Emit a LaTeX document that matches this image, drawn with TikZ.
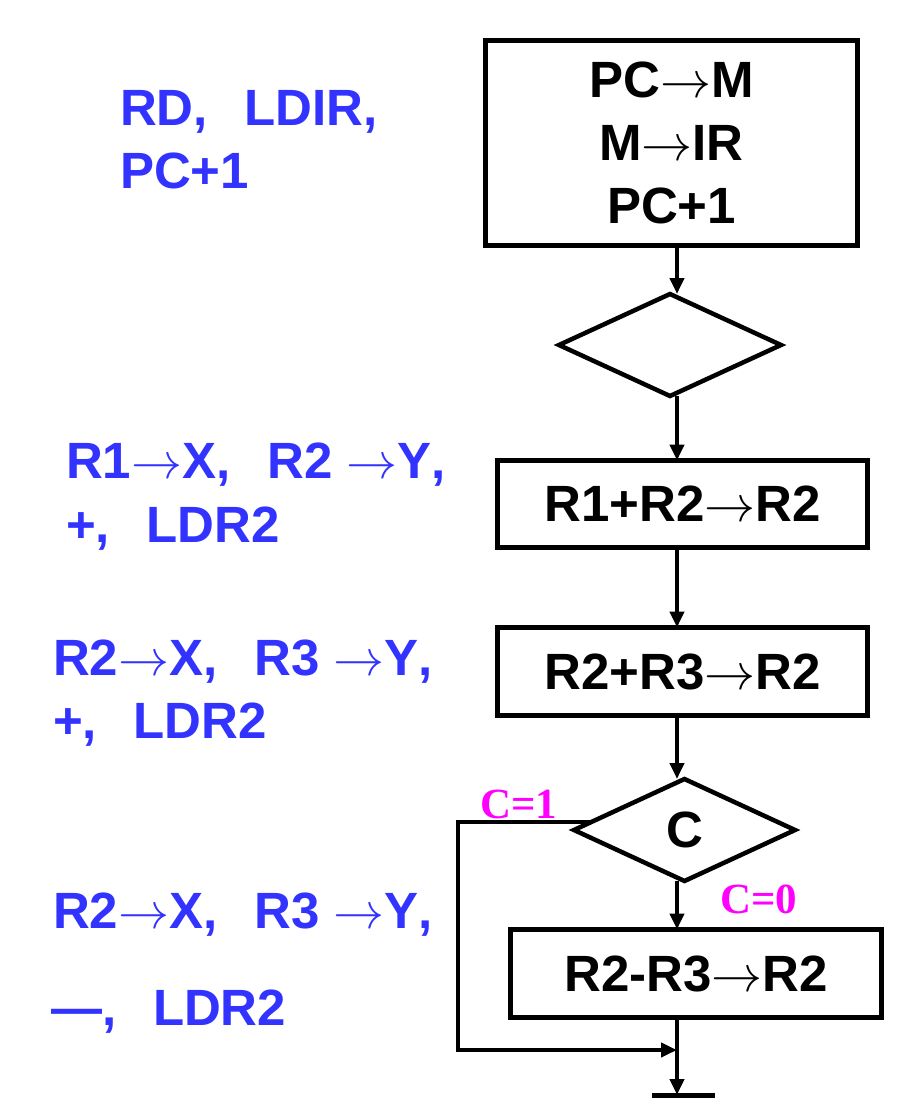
\RequirePackage{fix-cm}
\documentclass[tikz,border=0pt]{standalone}
\usepackage{fontspec}
\setmainfont{Liberation Sans}
\newfontfamily\tnr{Liberation Serif}
\usetikzlibrary{shapes.geometric,arrows.meta,calc}
\definecolor{tblue}{RGB}{51,51,255}
\definecolor{tmag}{RGB}{255,0,255}
\newcommand\ra{\ensuremath{\rightarrow}}
\newcommand\cm{\makebox[1em][l]{,}}
\begin{document}
\begin{tikzpicture}[x=1pt,y=-1pt,
  box/.style={draw,line width=5pt,inner sep=0pt,outer sep=0pt,
    font=\fontsize{51}{63}\selectfont\bfseries,align=center},
  dia/.style={draw,diamond,line width=4.5pt,inner sep=0pt,outer sep=0pt,
    font=\fontsize{51}{63}\selectfont\bfseries},
  conn/.style={line width=4pt,line join=miter,-{Triangle[width=14pt,length=16pt]}},
  lbl/.style={anchor=base west,inner sep=0pt,outer sep=0pt,text=tblue,
    font=\fontsize{51}{63}\selectfont\bfseries},
  cl/.style={anchor=base west,inner sep=0pt,outer sep=0pt,text=tmag,
    font=\fontsize{43}{43}\selectfont\tnr\bfseries}]
\useasboundingbox (0,0) rectangle (921,1120);
\coordinate (sp) at (677,0);

% flowchart boxes
\node[box,minimum width=372pt,minimum height=205pt] (b1) at (671.5,143) {PC\ra M\\M\ra IR\\PC+1};
\node[dia,minimum width=222pt,minimum height=102pt] (d1) at (670,345) {};
\node[box,minimum width=370pt,minimum height=87pt] (b2) at (682.5,504) {R1+R2\ra R2};
\node[box,minimum width=370pt,minimum height=88pt] (b3) at (682.5,671.5) {R2+R3\ra R2};
\node[dia,minimum width=221pt,minimum height=102pt] (dC) at (684.5,830) {C};
\node[box,minimum width=371pt,minimum height=88pt] (b4) at (696,973.5) {R2-R3\ra R2};
\coordinate (term) at (677,1095);

% connectors
\draw[conn] (b1.south -| sp) -- (d1.north -| sp);
\draw[conn] (d1.south -| sp) -- (b2.north -| sp);
\draw[conn] (b2.south -| sp) -- (b3.north -| sp);
\draw[conn] (b3.south -| sp) -- (dC.north -| sp);
\draw[conn] (dC.south -| sp) -- (b4.north -| sp);
\draw[conn] (b4.south -| sp) -- (term);
\draw[line width=5pt] ([xshift=-25pt]term) -- ([xshift=38pt]term);
\coordinate (c1) at ($(dC.west)!0.15!(dC.north)$);
\coordinate (lp) at (458,1050);
\draw[conn] (c1) -- (c1 -| lp) -- (lp) -- (lp -| sp);

% condition labels
\node[cl] (cone) at (480,818) {C=1};
\node[cl] (czero) at (720,913) {C=0};

% micro-operation labels
\node[lbl] (t1a) at (120,125) {RD\cm LDIR\cm};
\node[lbl] (t1b) at (120,188) {PC+1};
\node[lbl] (t2a) at (66,478) {R1\ra X\cm R2 \ra Y\cm};
\node[lbl] (t2b) at (66,542) {+\cm LDR2};
\node[lbl] (t3a) at (53,675) {R2\ra X\cm R3 \ra Y\cm};
\node[lbl] (t3b) at (53,738) {+\cm LDR2};
\node[lbl] (t4a) at (53,928) {R2\ra X\cm R3 \ra Y\cm};
\node[lbl] (t4b) at (51,1025) {—\cm LDR2};
\end{tikzpicture}
\end{document}
